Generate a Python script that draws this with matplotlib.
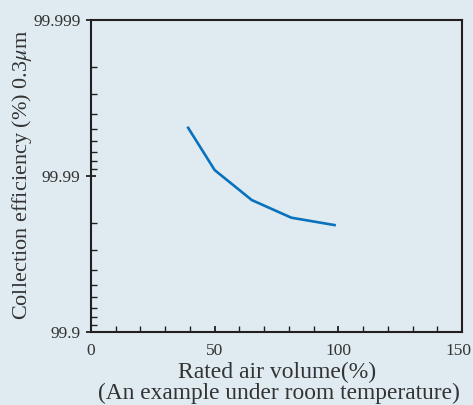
import matplotlib.pyplot as plt
from matplotlib.ticker import FixedLocator, FuncFormatter, LogLocator, NullFormatter
from matplotlib.transforms import ScaledTranslation

plt.rcParams['font.family'] = ['Liberation Serif', 'DejaVu Serif']
plt.rcParams['mathtext.fontset'] = 'stix'

# rated air volume (%) vs collection efficiency (%) for 0.3 um particles
air_volume = [39, 50, 65, 81, 99]
efficiency = [99.99517, 99.99084, 99.98574, 99.9815, 99.9793]
ytick_labels = ['99.9', '99.99', '99.999']

bg = '#dfebf1'
ink = '#231f20'
txt = '#333333'

# plot penetration (100 - efficiency) on an inverted log axis
penetration = [100 - e for e in efficiency]

fig = plt.figure(figsize=(4.73, 4.05), dpi=100, facecolor=bg)
ax = fig.add_axes([0.1924, 0.1802, 0.7843, 0.7704], facecolor=bg)

ax.plot(air_volume, penetration, color='#0a72bd', lw=1.9, solid_capstyle='butt')

ax.set_yscale('log')
ax.set_ylim(0.1, 0.001)
ax.set_xlim(0, 150)

ax.yaxis.set_major_locator(FixedLocator([0.1, 0.01, 0.001]))
ax.yaxis.set_major_formatter(FuncFormatter(
    lambda v, pos: dict(zip([0.1, 0.01, 0.001], ytick_labels)).get(round(v, 6), '')))
ax.yaxis.set_minor_locator(LogLocator(base=10, subs=range(2, 10)))
ax.yaxis.set_minor_formatter(NullFormatter())

ax.set_xticks([0, 50, 100, 150])
ax.set_xticks(range(0, 151, 10), minor=True)

for s in ax.spines.values():
    s.set_color(ink)
    s.set_linewidth(1.5)

ax.tick_params(which='major', direction='inout', length=7, width=1.3, color=ink,
               labelsize=12.5, labelcolor=txt)
ax.tick_params(which='minor', direction='in', length=4, width=1.0, color=ink)
ax.tick_params(axis='y', which='major', pad=4)
ax.tick_params(axis='x', which='major', direction='in', length=4, pad=8)

# nudge the last x label so it stays inside the figure
last = ax.get_xticklabels()[-1]
last.set_transform(last.get_transform() + ScaledTranslation(-4 / 100, 0, fig.dpi_scale_trans))

fig.text(277 / 473, 1 - 378 / 405, 'Rated air volume(%)', fontsize=17,
         color=txt, ha='center', va='baseline')
fig.text(279 / 473, 1 - 399 / 405, '(An example under room temperature)',
         fontsize=16.8, color=txt, ha='center', va='baseline')
fig.text(22 / 473, 1 - 175 / 405, r'Collection efficiency (%) 0.3$\mu$m',
         fontsize=16, color=txt, rotation=90, ha='center', va='center')

fig.savefig('out.png', dpi=100, facecolor=bg)
